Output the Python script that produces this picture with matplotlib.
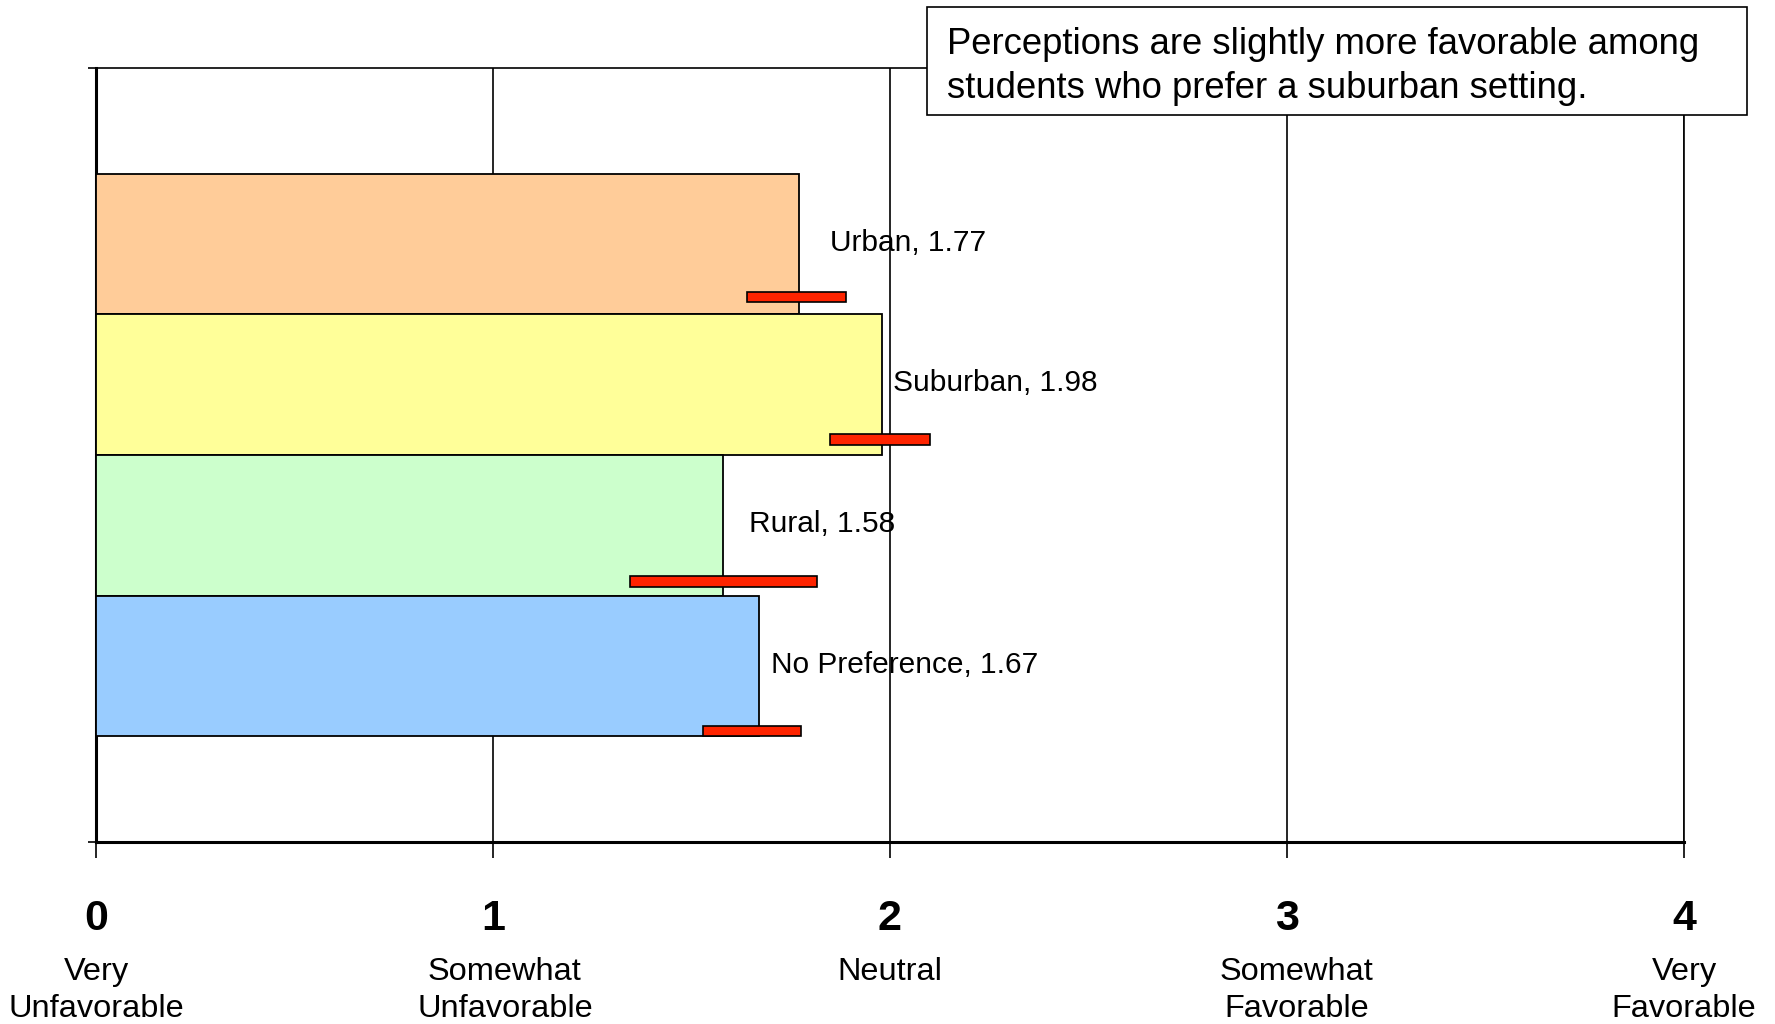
import matplotlib
matplotlib.use("Agg")
from matplotlib import pyplot as plt
from matplotlib.patches import Rectangle

# data
categories = ['Urban', 'Suburban', 'Rural', 'No Preference']
means = [1.77, 1.98, 1.58, 1.67]
err_low = [1.64, 1.85, 1.345, 1.53]
err_high = [1.89, 2.10, 1.815, 1.775]
bar_colors = ['#FFCC99', '#FFFF99', '#CCFFCC', '#99CCFF']

scale_ticks = [0, 1, 2, 3, 4]
scale_names = ['Very\nUnfavorable', 'Somewhat\nUnfavorable', 'Neutral',
               'Somewhat\nFavorable', 'Very\nFavorable']

note = 'Perceptions are slightly more favorable among\nstudents who prefer a suburban setting.'

plt.rcParams['font.family'] = ['Liberation Sans', 'DejaVu Sans']

fig = plt.figure(figsize=(17.75, 10.24), dpi=100)
ax = fig.add_axes([0.0541, 0.1777, 0.8946, 0.7559])

y = list(range(len(categories)))
ax.barh(y, means, height=1.0, color=bar_colors, edgecolor='black', linewidth=1.3, zorder=3)

# error bars drawn like thin red boxes near the bottom of each bar
err_offset = [0.377, 0.388, 0.40, 0.46]
err_y = [yi + o for yi, o in zip(y, err_offset)]
err_w = [h - l for l, h in zip(err_low, err_high)]
ax.barh(err_y, err_w, left=err_low, height=0.075, color='#FF2400',
        edgecolor='black', linewidth=1.2, zorder=4)

# value labels
label_x = [1.849, 2.008, 1.645, 1.700]
for yi, lx, name, m in zip(y, label_x, categories, means):
    ax.text(lx, yi - 0.01, f'{name}, {m:.2f}', fontsize=21.5, va='center', ha='left', zorder=5)

ax.set_xlim(0, 4)
ax.set_ylim(4.25, -1.25)

for s in ['top', 'right']:
    ax.spines[s].set_linewidth(1.2)
ax.spines['left'].set_linewidth(2.2)
ax.spines['bottom'].set_linewidth(2.2)

ax.set_xticks(scale_ticks)
ax.set_xticklabels([])
ax.tick_params(axis='x', direction='out', length=11.5, width=1.2)
ax.set_yticks([-1.25, 4.25])
ax.set_yticklabels([])
ax.tick_params(axis='y', direction='out', length=6, width=1.2)
ax.grid(axis='x', color='black', linewidth=1.2, zorder=0)
ax.set_axisbelow(True)

# tick text: bold number + description (one text per line, first line on top row)
trans = ax.get_xaxis_transform()
name_shift = [0, 0.03, 0, 0.025, 0]
line_y = [-0.178, -0.226]
for t, nm, sh in zip(scale_ticks, scale_names, name_shift):
    ax.text(t, -0.1, str(t), transform=trans, ha='center', va='center',
            fontsize=31, fontweight='bold', clip_on=False)
    for ly, part in zip(line_y, nm.split('\n')):
        ax.text(t + sh, ly, part, transform=trans, ha='center', va='baseline',
                fontsize=23.4, clip_on=False)

# note box in the top right corner
fig.patches.append(Rectangle((0.522, 0.888), 0.462, 0.105, transform=fig.transFigure,
                             facecolor='white', edgecolor='black', linewidth=1.2, zorder=10))
fig.text(0.5335, 0.935, note, fontsize=26.3, ha='left', va='center', linespacing=1.36, zorder=11)

fig.savefig('out.png', dpi=100)
